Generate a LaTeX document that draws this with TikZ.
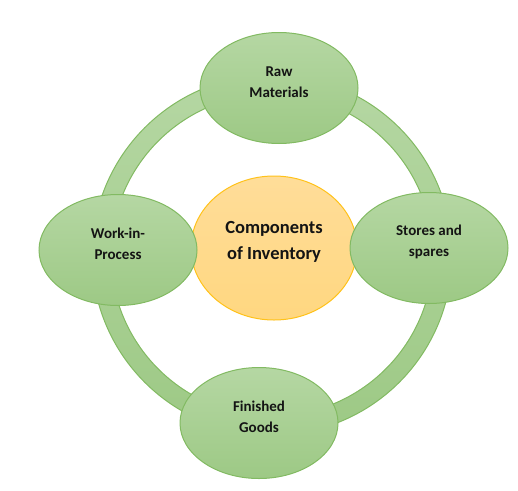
\documentclass[tikz,border=0pt]{standalone}
\usepackage{fontspec}
\setmainfont{Carlito}
\usetikzlibrary{shapes.geometric}
\definecolor{gtop}{HTML}{B5D7A3}
\definecolor{gbot}{HTML}{9DC985}
\definecolor{gline}{HTML}{82BA62}
\definecolor{otop}{HTML}{FFDD99}
\definecolor{obot}{HTML}{FFD780}
\definecolor{oline}{HTML}{FFC21A}
\tikzset{
  item/.style={ellipse, minimum width=158pt, minimum height=111pt, inner sep=0pt,
    top color=gtop, bottom color=gbot, draw=gline, line width=1pt},
  itemtext/.style={font=\fontsize{15}{21}\selectfont\bfseries, align=center, text=black!92, inner sep=0pt},
  core/.style={ellipse, minimum width=166pt, minimum height=144pt, inner sep=0pt,
    top color=otop, bottom color=obot, draw=oline, line width=1pt},
  coretext/.style={font=\fontsize{18.5}{26}\selectfont\bfseries, align=center, text=black!92, inner sep=0pt},
}
\begin{document}
\begin{tikzpicture}[x=1pt,y=-1pt]
\useasboundingbox (0,0) rectangle (518,490);
\coordinate (c) at (272,255);
\shade[even odd rule, top color=gtop, bottom color=gbot] (c) circle (180) (c) circle (161);
\draw[gline, line width=1pt] (c) circle (180) (c) circle (161);
\node[core] (core) at (274,248) {};
\node[coretext] (coret) at ([yshift=6pt]core.center) {Components\\of Inventory};
\node[item] (raw) at (279,88) {};
\node[itemtext] (rawt) at ([yshift=6pt]raw.center) {Raw\\Materials};
\node[item] (wip) at (118,250) {};
\node[itemtext] (wipt) at ([yshift=6pt]wip.center) {Work-in-\\Process};
\node[item] (store) at (429,248) {};
\node[itemtext] (storet) at ([yshift=6pt]store.center) {Stores and\\spares};
\node[item] (fin) at (259,423) {};
\node[itemtext] (fint) at ([yshift=6pt]fin.center) {Finished\\Goods};
\end{tikzpicture}
\end{document}
